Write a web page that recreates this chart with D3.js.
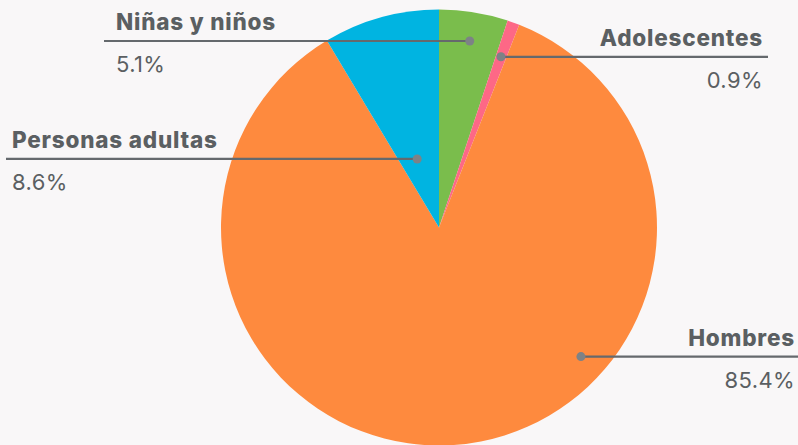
<!DOCTYPE html>
<html>
<head>
<meta charset="utf-8">
<script src="https://cdn.jsdelivr.net/npm/d3@7"></script>
<style>
  html, body { margin: 0; padding: 0; background: #f9f7f8; }
  svg { display: block; }
  text { font-family: Inter, "Open Sans", sans-serif; fill: #5b5f62; }
</style>
</head>
<body>
<svg id="chart" width="798" height="445"></svg>
<script>
// Distribución por grupo
const categories = ["Niñas y niños", "Adolescentes", "Hombres", "Personas adultas"];
const values = [5.1, 0.9, 85.4, 8.6];
const valueLabels = ["5.1%", "0.9%", "85.4%", "8.6%"];
const colors = ["#7abd4c", "#fd6886", "#fe8a3e", "#00b4e1"];

// Callout layout: where the dot sits inside each slice, and where the leader line ends
const anchorT = [0.51, 0.49, 0.36, 0.43];      // fraction along the slice's angle
const anchorR = [0.867, 0.833, 0.88, 0.33];    // fraction of the radius
const lineEndX = [104, 768, 798, 6];
const textX = [116, 763, 795, 12];
const textAnchor = ["start", "end", "end", "start"];

const width = 798, height = 445;
const cx = 439, cy = 227.5, radius = 218;

const svg = d3.select("#chart");
const g = svg.append("g").attr("transform", `translate(${cx},${cy})`);

const pie = d3.pie().sort(null).value(d => d);
const arcs = pie(values);
const arc = d3.arc().innerRadius(0).outerRadius(radius);

g.selectAll("path.slice")
  .data(arcs)
  .join("path")
  .attr("class", "slice")
  .attr("d", arc)
  .attr("fill", (d, i) => colors[i]);

// Callouts
arcs.forEach((a, i) => {
  const ang = a.startAngle + (a.endAngle - a.startAngle) * anchorT[i];
  const r = radius * anchorR[i];
  const px = cx + r * Math.sin(ang);
  const py = cy - r * Math.cos(ang);

  svg.append("line")
    .attr("x1", px).attr("y1", py)
    .attr("x2", lineEndX[i]).attr("y2", py)
    .attr("stroke", "#65696d")
    .attr("stroke-width", 2.2);

  svg.append("circle")
    .attr("cx", px).attr("cy", py).attr("r", 4.5)
    .attr("fill", "#7d8286");

  svg.append("text")
    .attr("x", textX[i]).attr("y", py - 11)
    .attr("text-anchor", textAnchor[i])
    .attr("font-size", 22.5)
    .attr("font-weight", 800)
    .attr("letter-spacing", 0.8)
    .text(categories[i]);

  svg.append("text")
    .attr("x", textX[i]).attr("y", py + 31)
    .attr("text-anchor", textAnchor[i])
    .attr("font-size", 22)
    .attr("font-weight", 400)
    .attr("letter-spacing", 0.4)
    .text(valueLabels[i]);
});
</script>
</body>
</html>
